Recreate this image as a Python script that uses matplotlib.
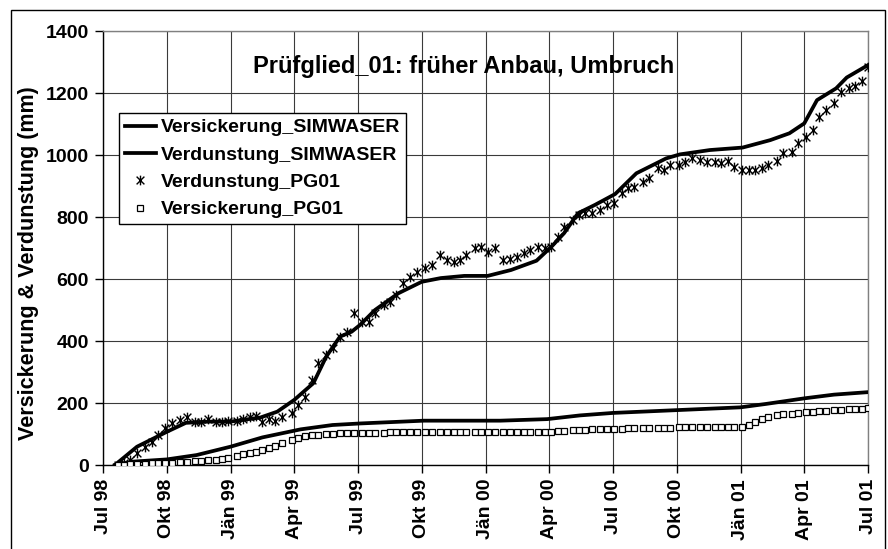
import matplotlib
matplotlib.use("Agg")
import matplotlib.pyplot as plt
from matplotlib.patches import Rectangle
from matplotlib.path import Path

plt.rcParams['font.family'] = ['Liberation Sans', 'DejaVu Sans']
plt.rcParams['font.weight'] = 'bold'

# x positions in months since Jul 98
tick_labels = ["Jul 98", "Okt 98", "Jän 99", "Apr 99", "Jul 99", "Okt 99", "Jän 00",
               "Apr 00", "Jul 00", "Okt 00", "Jän 01", "Apr 01", "Jul 01"]
tick_pos = [0, 3, 6, 9, 12, 15, 18, 21, 24, 27, 30, 33, 36]

verd_sim_m = [0.56, 1.6, 3.0, 3.9, 5.0, 6.0, 7.4, 8.2, 9.0, 9.7, 9.9, 10.5, 11.15, 11.7, 12.1,
              12.8, 13.9, 15.0, 15.9, 17.0, 18.1, 19.2, 20.4, 21.1, 21.7, 22.35, 23.15, 24.1,
              25.1, 26.5, 27.15, 28.56, 30.1, 31.4, 32.3, 33.0, 33.6, 34.5, 35.0, 36.0]
verd_sim_v = [0, 59, 107, 136, 140, 140, 153, 172, 210, 252, 264, 349, 414, 430, 452,
              500, 554, 591, 603, 610, 610, 629, 659, 704, 748, 812, 839, 874,
              941, 989, 1002, 1016, 1024, 1048, 1070, 1102, 1177, 1215, 1250, 1290]

vers_sim_m = [0.56, 1.43, 3.0, 4.4, 6.0, 7.5, 9.3, 10.8, 12.1, 15.1, 18.7, 20.9, 22.45,
              24.0, 27.0, 30.0, 31.2, 33.0, 34.4, 36.0]
vers_sim_v = [0, 11, 18, 32, 59, 89, 115, 129, 134, 143, 143, 148, 160,
              168, 177, 186, 197, 215, 227, 235]

pg_m = [0.72, 0.98, 1.27, 1.58, 1.98, 2.29, 2.6, 2.92, 3.23, 3.62, 3.94,
        4.32, 4.6, 4.96, 5.3, 5.6, 5.9, 6.3, 6.6, 6.9, 7.2,
        7.5, 7.8, 8.1, 8.4, 8.88, 9.19, 9.5, 9.82, 10.13, 10.5,
        10.84, 11.15, 11.47, 11.8, 12.17, 12.5, 12.8, 13.2, 13.5, 13.8,
        14.13, 14.45, 14.76, 15.15, 15.47, 15.86, 16.17, 16.5, 16.8, 17.1,
        17.5, 17.8, 18.13, 18.45, 18.84, 19.15, 19.46, 19.8, 20.1, 20.45,
        20.8, 21.1, 21.4, 21.7, 22.1, 22.4, 22.7, 23.0, 23.4, 23.7,
        24.05, 24.4, 24.7, 25.0, 25.4, 25.7, 26.1, 26.4, 26.7, 27.1,
        27.4, 27.7, 28.1, 28.4, 28.8, 29.1, 29.4, 29.7, 30.05, 30.4,
        30.7, 31.0, 31.3, 31.7, 32.0, 32.4, 32.7, 33.1, 33.4, 33.7,
        34.0, 34.4, 34.75, 35.1, 35.4, 35.7, 36.0]
verd_pg_v = [0, 5, 16, 38, 59, 75, 97, 118, 134, 145, 156,
             140, 140, 147, 140, 140, 143, 143, 148, 156, 158,
             140, 147, 143, 156, 167, 194, 220, 274, 328, 355,
             376, 414, 430, 489, 462, 462, 489, 516, 527, 548,
             586, 607, 624, 634, 645, 677, 661, 656, 661, 677,
             699, 704, 688, 699, 661, 663, 672, 685, 694, 704,
             699, 704, 737, 769, 790, 806, 812, 812, 823, 839,
             844, 876, 892, 898, 914, 925, 957, 952, 968, 968,
             978, 989, 984, 978, 976, 973, 980, 962, 952, 952,
             952, 957, 968, 980, 1005, 1010, 1038, 1059, 1081, 1124,
             1145, 1167, 1204, 1215, 1224, 1239, 1285]
vers_pg_v = [0, 1, 2, 3, 4, 5, 6, 7, 8, 9, 10,
             12, 13, 15, 17, 20, 24, 30, 34, 39, 43,
             48, 55, 62, 70, 80, 88, 93, 96, 98, 100,
             101, 102, 103, 103, 103, 104, 104, 104, 105, 105,
             105, 105, 105, 105, 105, 105, 105, 105, 105, 105,
             105, 105, 105, 105, 105, 105, 106, 106, 106, 107,
             107, 108, 109, 110, 112, 113, 114, 115, 116, 116,
             117, 117, 118, 118, 119, 119, 120, 120, 120, 121,
             121, 121, 121, 122, 122, 122, 122, 123, 124, 128,
             138, 147, 154, 160, 163, 166, 168, 170, 172, 174,
             175, 177, 178, 180, 181, 182, 183]

# Excel-style star marker: an X with a vertical stroke
star = Path([(0, -1), (0, 1), (-0.8, -0.8), (0.8, 0.8), (-0.8, 0.8), (0.8, -0.8)],
            [Path.MOVETO, Path.LINETO, Path.MOVETO, Path.LINETO, Path.MOVETO, Path.LINETO])

fig = plt.figure(figsize=(8.88, 5.49), dpi=100)
ax = fig.add_axes([103/888, 84/549, 765/888, 434/549])

ax.plot(vers_sim_m, vers_sim_v, color='black', lw=2.7, label='Versickerung_SIMWASER',
        solid_joinstyle='round', zorder=3)
ax.plot(verd_sim_m, verd_sim_v, color='black', lw=2.7, label='Verdunstung_SIMWASER',
        solid_joinstyle='round', zorder=3)
ax.plot(pg_m, verd_pg_v, linestyle='none', marker=star, ms=7, mew=1.0,
        color='black', mfc='none', label='Verdunstung_PG01', zorder=4)
ax.plot(pg_m, vers_pg_v, linestyle='none', marker='s', ms=4, mew=0.9,
        mfc='white', mec='black', label='Versickerung_PG01', zorder=4)

ax.set_xlim(0, 36)
ax.set_ylim(0, 1400)
ax.set_xticks(tick_pos)
ax.set_xticklabels(tick_labels, rotation=90, fontsize=14, fontweight='bold')
ax.set_yticks(range(0, 1401, 200))
ax.set_yticklabels([str(v) for v in range(0, 1401, 200)], fontsize=14, fontweight='bold')
ax.tick_params(axis='both', direction='out', length=6, width=1, color='black', pad=4)
ax.grid(True, color='#3a3a3a', lw=0.8)
ax.set_axisbelow(True)
for s in ['top', 'right']:
    ax.spines[s].set_color('#808080')
    ax.spines[s].set_linewidth(1)
for s in ['left', 'bottom']:
    ax.spines[s].set_color('black')
    ax.spines[s].set_linewidth(1)

ax.set_ylabel('Versickerung & Verdunstung (mm)', fontsize=15.5, fontweight='bold')
ax.yaxis.set_label_coords(-0.084, 0.465)

ax.text(0.471, 0.919, 'Prüfglied_01: früher Anbau, Umbruch', transform=ax.transAxes,
        ha='center', va='center', fontsize=17, fontweight='bold')

leg = ax.legend(loc='upper left', bbox_to_anchor=(0.021, 0.811), borderaxespad=0,
                fancybox=False, framealpha=1, edgecolor='black',
                handlelength=1.6, handletextpad=0.25, labelspacing=0.5,
                borderpad=0.3, prop={'weight': 'bold', 'size': 14})
leg.get_frame().set_linewidth(1)

fig.patches.append(Rectangle((11/888, -0.05), (885-11)/888, 1.05 - 10/549,
                             transform=fig.transFigure, fill=False,
                             edgecolor='black', lw=1))

fig.savefig('out.png', dpi=100)
